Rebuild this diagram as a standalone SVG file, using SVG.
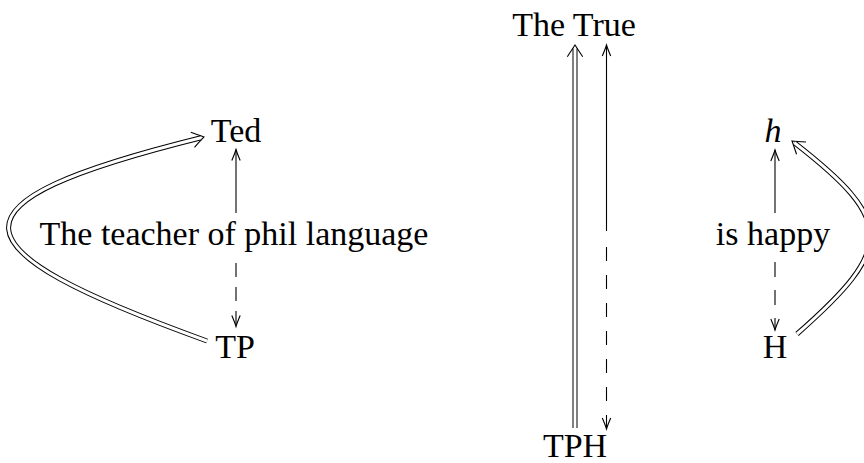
<svg xmlns="http://www.w3.org/2000/svg" width="864" height="463" viewBox="0 0 864 463">
<style>
text{font-family:"Liberation Serif","Times New Roman",serif;font-size:34px;fill:#000;text-anchor:middle}
.it{font-style:italic}
.ln{fill:none;stroke:#000;stroke-width:1.1}
.dbl{fill:none;stroke:#000;stroke-width:5}
.gap{fill:none;stroke:#fff;stroke-width:3}
</style>
<defs>
<marker id="to" markerUnits="userSpaceOnUse" markerWidth="24" markerHeight="24" refX="0" refY="0" orient="auto" overflow="visible">
<path d="M-11,-4.2 Q-4,-1.2 0,0 Q-4,1.2 -11,4.2" fill="none" stroke="#000" stroke-width="1.1" stroke-dasharray="none"/>
</marker>
<marker id="imp" markerUnits="userSpaceOnUse" markerWidth="24" markerHeight="24" refX="-3" refY="0" orient="auto" overflow="visible">
<path d="M-11.7,-7.7 Q-4,-2.6 0,0 Q-4,2.6 -11.7,7.7" fill="none" stroke="#000" stroke-width="1.1"/>
</marker>
</defs>

<g id="n-ted"><text x="236" y="142">Ted</text></g>
<g id="n-label1"><text x="234" y="245">The teacher of phil language</text></g>
<g id="n-tp"><text x="235" y="358">TP</text></g>
<g id="n-true"><text x="574" y="36">The True</text></g>
<g id="n-tph"><text x="575" y="457">TPH</text></g>
<g id="n-h"><text class="it" x="773" y="142">h</text></g>
<g id="n-label2"><text x="773" y="245">is happy</text></g>
<g id="n-H"><text x="775" y="358">H</text></g>

<g id="connectors">
<path class="ln" d="M236,213 L236,149.5" marker-end="url(#to)"/>
<path class="ln" d="M236,263 L236,326.5" stroke-dasharray="14 10" marker-end="url(#to)"/>
<path class="dbl" d="M207,341 C-51,248 -62,203 201.1,137.7" marker-end="url(#imp)"/>
<path class="gap" d="M207,341 C-51,248 -62,203 201.1,137.7"/>

<path class="dbl" d="M575,428 L575,48" marker-end="url(#imp)"/>
<path class="gap" d="M575,428 L575,48"/>
<path class="ln" d="M606.5,231 L606.5,45" marker-end="url(#to)"/>
<path class="ln" d="M606.5,247 L606.5,429" stroke-dasharray="14 14" marker-end="url(#to)"/>

<path class="ln" d="M775,213 L775,150" marker-end="url(#to)"/>
<path class="ln" d="M775,262 L775,330" stroke-dasharray="15 13" marker-end="url(#to)"/>
<path class="dbl" d="M797,334 C895,248 895,221 794.4,142.8" marker-end="url(#imp)"/>
<path class="gap" d="M797,334 C895,248 895,221 794.4,142.8"/>
</g>
</svg>
